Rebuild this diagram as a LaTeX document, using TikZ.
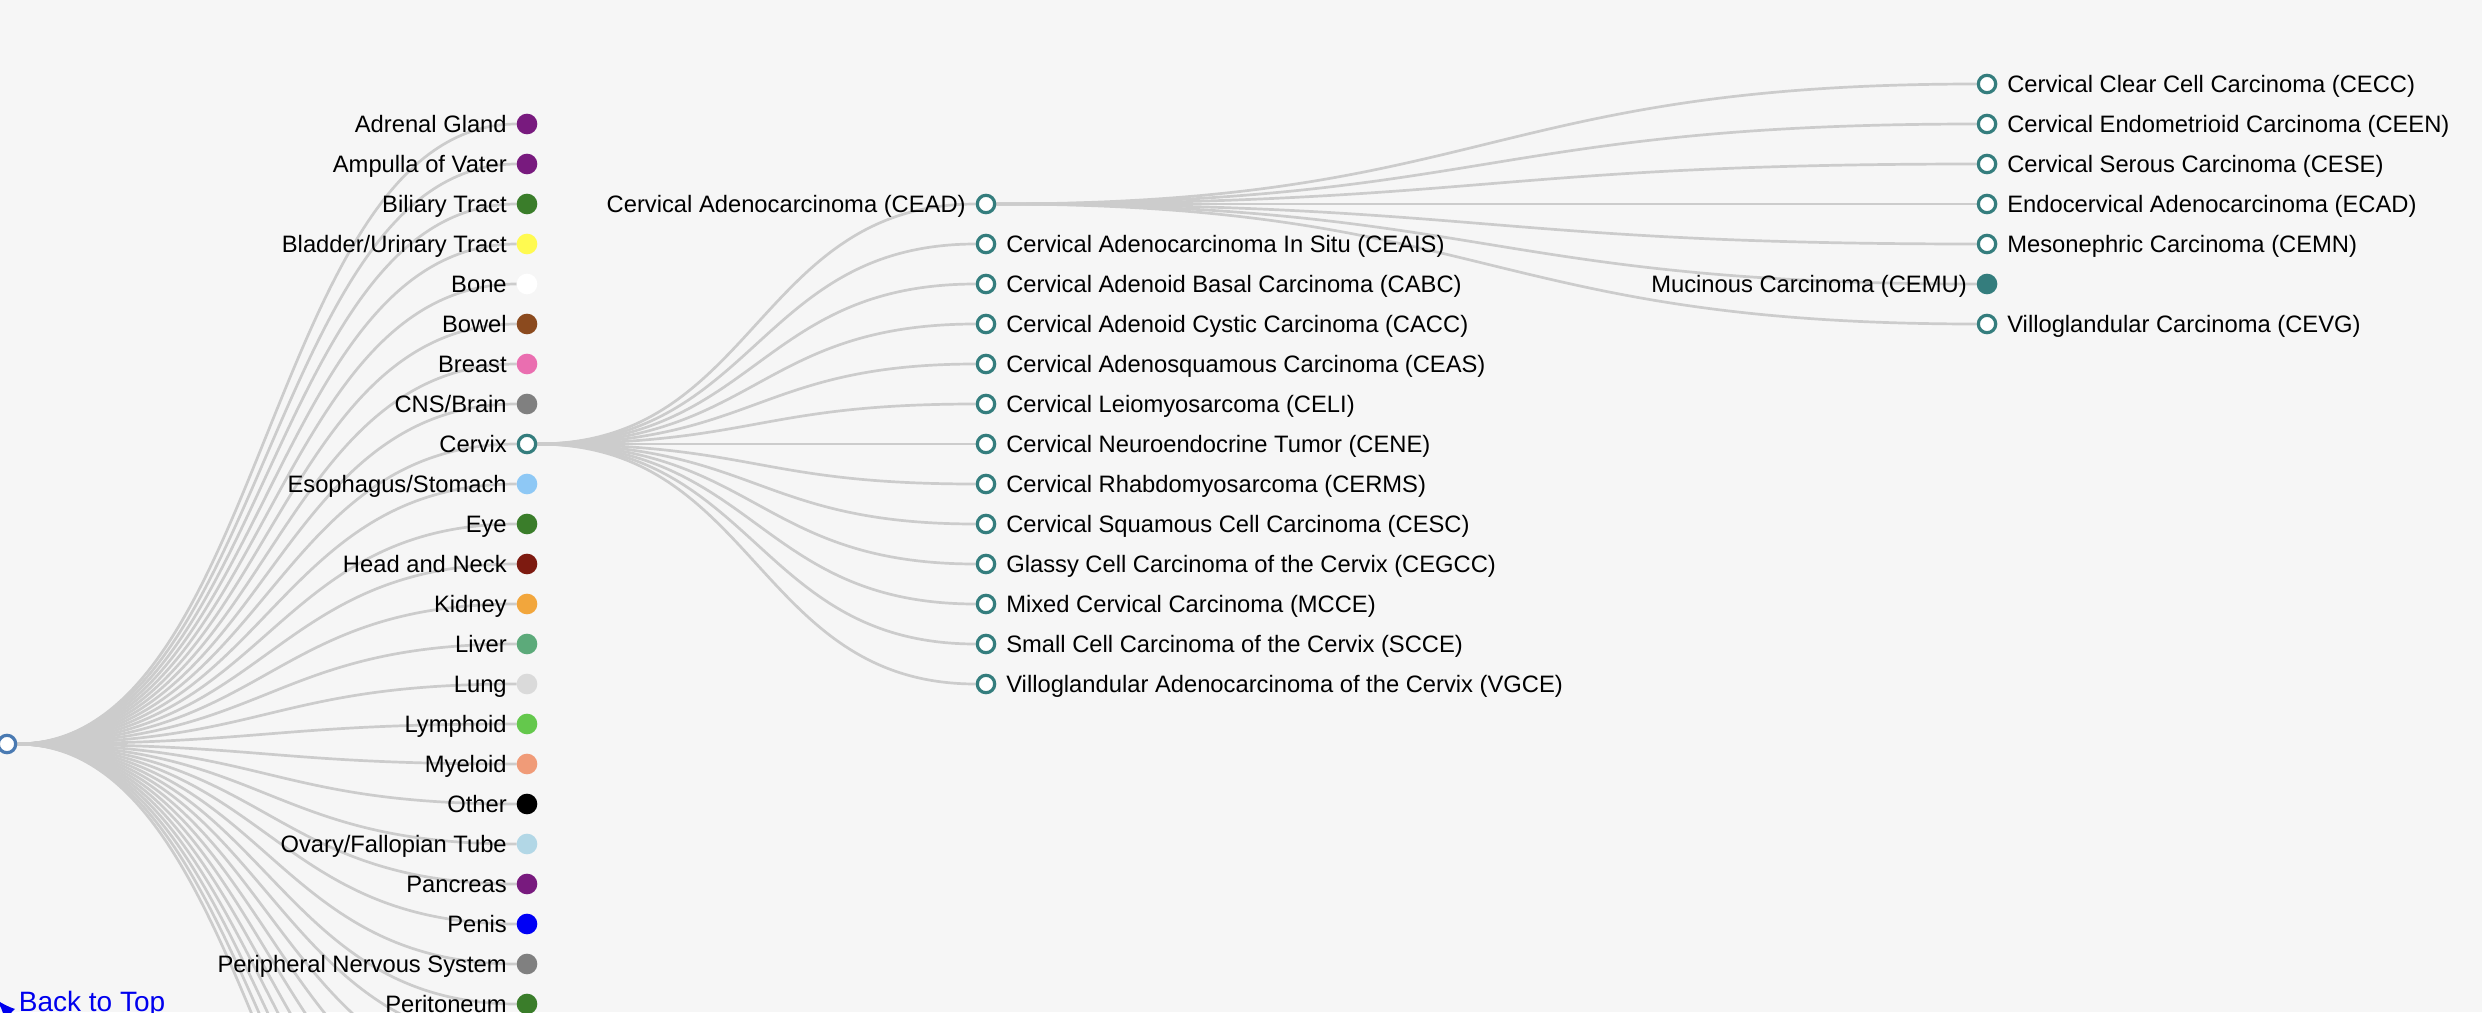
\documentclass[tikz,border=0pt]{standalone}
\usepackage{fontspec}
\setmainfont{Liberation Sans}
\usepackage{tikz}
\usetikzlibrary{calc,positioning}
\pgfdeclarelayer{background}
\pgfsetlayers{background,main}
\definecolor{paper}{RGB}{246,246,246}
\definecolor{linkgray}{RGB}{204,204,204}
\definecolor{oncoteal}{RGB}{52,125,125}
\definecolor{rootblue}{RGB}{74,122,178}
\definecolor{toplink}{RGB}{0,0,238}
\definecolor{cPurple}{RGB}{120,26,126}
\definecolor{cGreen}{RGB}{58,125,42}
\definecolor{cYellow}{RGB}{255,250,80}
\definecolor{cWhite}{RGB}{255,255,255}
\definecolor{cBrown}{RGB}{139,74,30}
\definecolor{cPink}{RGB}{234,110,176}
\definecolor{cGray}{RGB}{128,128,128}
\definecolor{cSky}{RGB}{142,200,245}
\definecolor{cDarkRed}{RGB}{125,26,16}
\definecolor{cOrange}{RGB}{242,166,60}
\definecolor{cSeaGreen}{RGB}{92,170,122}
\definecolor{cGains}{RGB}{218,218,218}
\definecolor{cLime}{RGB}{100,200,76}
\definecolor{cSalmon}{RGB}{240,155,120}
\definecolor{cBlack}{RGB}{0,0,0}
\definecolor{cLightBlue}{RGB}{178,215,230}
\definecolor{cBlue}{RGB}{0,0,245}
\begin{document}
\begin{tikzpicture}[x=0.5pt,y=-0.5pt,
  link/.style={draw=linkgray,line width=1.35pt},
  dot/.style={circle,inner sep=0pt,minimum size=8.7pt,line width=1.6pt},
  tissue/.style={dot,draw=#1,fill=#1},
  open/.style={dot,draw=#1,fill=white},
  lbl/.style={inner sep=0pt,outer sep=0pt,text height=10.7pt,text depth=2.4pt,font=\fontsize{11.875pt}{14pt}\selectfont}]
\useasboundingbox (0,0) rectangle (2482,1012);
\node[open=rootblue] (root) at (7,744) {};
\foreach \tname/\tcol [count=\k from 0] in {Adrenal Gland/cPurple,Ampulla of Vater/cPurple,%
  Biliary Tract/cGreen,{Bladder/Urinary Tract}/cYellow,Bone/cWhite,Bowel/cBrown,Breast/cPink,%
  {CNS/Brain}/cGray,Cervix/oncoteal,{Esophagus/Stomach}/cSky,Eye/cGreen,Head and Neck/cDarkRed,%
  Kidney/cOrange,Liver/cSeaGreen,Lung/cGains,Lymphoid/cLime,Myeloid/cSalmon,Other/cBlack,%
  {Ovary/Fallopian Tube}/cLightBlue,Pancreas/cPurple,Penis/cBlue,%
  Peripheral Nervous System/cGray,Peritoneum/cGreen}{
  \ifnum\k=8 \node[open=\tcol] (t\k) at (527,124+40*\k) {};
  \else \node[tissue=\tcol] (t\k) at (527,124+40*\k) {};
  \fi
  \node[lbl,left=5pt of t\k] (tl\k) {\tname};
}
\foreach \k in {23,...,31}
  \coordinate (t\k) at (527,124+40*\k);
\foreach \cname [count=\j from 0] in {Cervical Adenocarcinoma (CEAD),%
  Cervical Adenocarcinoma In Situ (CEAIS),Cervical Adenoid Basal Carcinoma (CABC),%
  Cervical Adenoid Cystic Carcinoma (CACC),Cervical Adenosquamous Carcinoma (CEAS),%
  Cervical Leiomyosarcoma (CELI),Cervical Neuroendocrine Tumor (CENE),%
  Cervical Rhabdomyosarcoma (CERMS),Cervical Squamous Cell Carcinoma (CESC),%
  Glassy Cell Carcinoma of the Cervix (CEGCC),Mixed Cervical Carcinoma (MCCE),%
  Small Cell Carcinoma of the Cervix (SCCE),%
  Villoglandular Adenocarcinoma of the Cervix (VGCE)}{
  \node[open=oncoteal] (cx\j) at (986,204+40*\j) {};
  \ifnum\j=0 \node[lbl,left=5pt of cx\j] (cxl\j) {\cname};
  \else \node[lbl,right=5pt of cx\j] (cxl\j) {\cname};
  \fi
}
\foreach \aname [count=\i from 0] in {Cervical Clear Cell Carcinoma (CECC),%
  Cervical Endometrioid Carcinoma (CEEN),Cervical Serous Carcinoma (CESE),%
  Endocervical Adenocarcinoma (ECAD),Mesonephric Carcinoma (CEMN),%
  Mucinous Carcinoma (CEMU),Villoglandular Carcinoma (CEVG)}{
  \ifnum\i=5 \node[tissue=oncoteal] (ad\i) at (1987,84+40*\i) {};
    \node[lbl,left=5pt of ad\i] (adl\i) {\aname};
  \else \node[open=oncoteal] (ad\i) at (1987,84+40*\i) {};
    \node[lbl,right=5pt of ad\i] (adl\i) {\aname};
  \fi
}
\node[anchor=base west,inner sep=0pt,text=toplink,font=\fontsize{14pt}{16pt}\selectfont] (backtop) at (18.5,1011) {Back to Top};
\draw[toplink,line width=2.2pt,-latex] (10,1014) -- (-3,1000);
\begin{pgfonlayer}{background}
\fill[paper] (0,0) rectangle (2482,1012);
\foreach \k in {0,...,31}
  \draw[link] (root) .. controls ($(root)!.5!(root-|t\k)$) and ($(t\k)!.5!(t\k-|root)$) .. (t\k);
\foreach \j in {0,...,12}
  \draw[link] (t8) .. controls ($(t8)!.5!(t8-|cx\j)$) and ($(cx\j)!.5!(cx\j-|t8)$) .. (cx\j);
\foreach \i in {0,...,6}
  \draw[link] (cx0) .. controls ($(cx0)!.5!(cx0-|ad\i)$) and ($(ad\i)!.5!(ad\i-|cx0)$) .. (ad\i);
\end{pgfonlayer}
\end{tikzpicture}
\end{document}
